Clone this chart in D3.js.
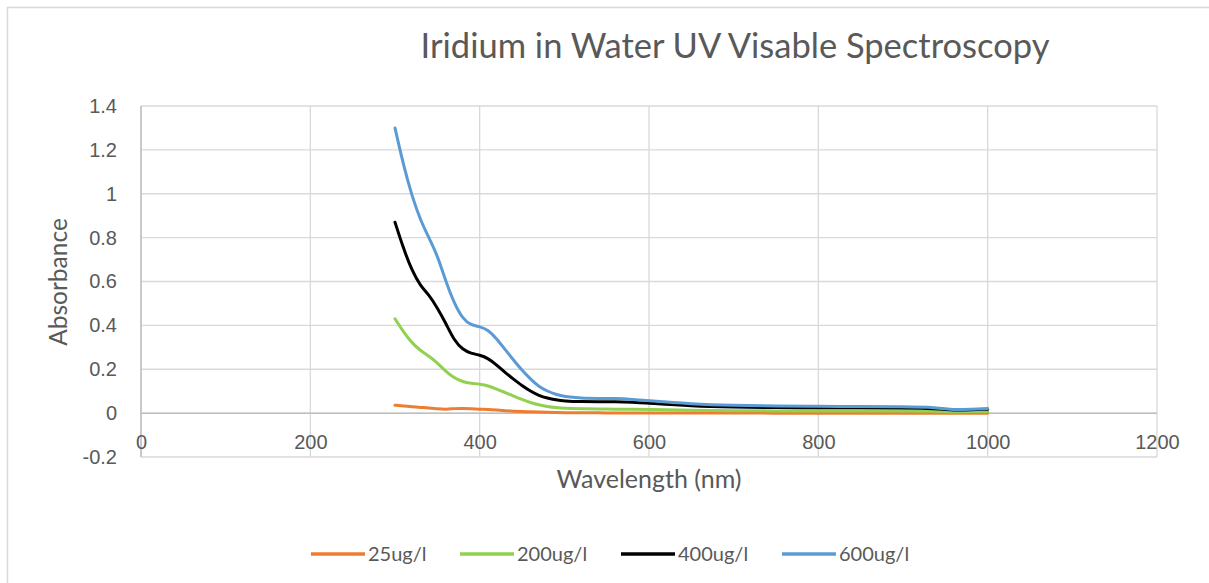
<!DOCTYPE html>
<html>
<head>
<meta charset="utf-8">
<script src="https://cdn.jsdelivr.net/npm/d3@7"></script>
<style>
  body { margin: 0; background: #fff; }
  svg { display: block; font-family: Lato, "Open Sans", sans-serif; }
  .grid line { stroke: #d9d9d9; stroke-width: 1.3; }
  .tick text { fill: #595959; }
</style>
</head>
<body>
<svg id="chart" width="1209" height="583"></svg>
<script>
// wavelengths (nm) shared by all series
var wavelengths = [300, 310, 320, 330, 340, 350, 360, 370, 380, 390, 400, 410, 420, 430, 440, 450,
  460, 470, 480, 490, 500, 520, 540, 560, 580, 600, 650, 700, 750, 800, 850, 900, 940, 960, 980, 1000];

var s25 = [0.036, 0.033, 0.029, 0.026, 0.024, 0.020, 0.017, 0.021, 0.022, 0.020, 0.018, 0.017, 0.014, 0.011, 0.009, 0.007,
  0.006, 0.005, 0.004, 0.003, 0.002, 0.002, 0.001, 0.001, 0.001, 0.001, 0.001, 0.000, 0.000, 0.000, 0.000, 0.000, 0.000, 0.000, 0.000, 0.000];
var s200 = [0.43, 0.37, 0.32, 0.285, 0.26, 0.23, 0.19, 0.16, 0.142, 0.136, 0.132, 0.125, 0.11, 0.094, 0.078, 0.062,
  0.048, 0.038, 0.030, 0.025, 0.022, 0.020, 0.019, 0.018, 0.018, 0.017, 0.013, 0.011, 0.010, 0.010, 0.010, 0.010, 0.009, 0.006, 0.007, 0.008];
var s400 = [0.87, 0.75, 0.65, 0.58, 0.54, 0.48, 0.41, 0.33, 0.29, 0.272, 0.265, 0.25, 0.22, 0.185, 0.155, 0.125,
  0.10, 0.08, 0.068, 0.060, 0.055, 0.052, 0.052, 0.052, 0.050, 0.045, 0.032, 0.027, 0.025, 0.025, 0.024, 0.023, 0.022, 0.012, 0.015, 0.018];
var s600 = [1.30, 1.13, 0.99, 0.88, 0.80, 0.72, 0.60, 0.50, 0.43, 0.40, 0.395, 0.38, 0.34, 0.29, 0.242, 0.195,
  0.155, 0.12, 0.10, 0.085, 0.075, 0.068, 0.067, 0.067, 0.063, 0.056, 0.042, 0.035, 0.032, 0.031, 0.030, 0.029, 0.026, 0.014, 0.018, 0.021];

var seriesNames = ["25ug/l", "200ug/l", "400ug/l", "600ug/l"];
var seriesColors = ["#ed7d31", "#92d050", "#000000", "#5b9bd5"];
var xTicks = [0, 200, 400, 600, 800, 1000, 1200];
var yTicks = [-0.2, 0, 0.2, 0.4, 0.6, 0.8, 1, 1.2, 1.4];

var series = [s25, s200, s400, s600].map(function(vals, i) {
  return {
    name: seriesNames[i],
    color: seriesColors[i],
    values: vals.map(function(v, j) { return {w: wavelengths[j], a: v}; })
  };
});

var svg = d3.select("#chart"),
    margin = {top: 106, left: 141, right: 52, bottom: 126},
    width = 1209 - margin.left - margin.right,
    height = 583 - margin.top - margin.bottom;

// chart border (cut off on right and bottom)
svg.append("path")
  .attr("d", "M7.5,583 L7.5,7.5 L1209,7.5")
  .attr("fill", "none")
  .attr("stroke", "#d9d9d9")
  .attr("stroke-width", 1.5);

var g = svg.append("g").attr("transform", "translate(" + margin.left + "," + margin.top + ")");

var x = d3.scaleLinear().domain([0, 1200]).range([0, width]),
    y = d3.scaleLinear().domain([-0.2, 1.4]).range([height, 0]);

// gridlines
var grid = g.append("g").attr("class", "grid");
grid.selectAll(".hg").data(yTicks).enter().append("line")
  .attr("x1", 0).attr("x2", width)
  .attr("y1", function(d) { return y(d); }).attr("y2", function(d) { return y(d); });
grid.selectAll(".vg").data(xTicks).enter().append("line")
  .attr("y1", 0).attr("y2", height)
  .attr("x1", function(d) { return x(d); }).attr("x2", function(d) { return x(d); });

// zero line + value axis line
g.append("line")
  .attr("x1", 0).attr("x2", width)
  .attr("y1", y(0)).attr("y2", y(0))
  .attr("stroke", "#bfbfbf").attr("stroke-width", 1.5);
g.append("line")
  .attr("x1", 0).attr("x2", 0)
  .attr("y1", 0).attr("y2", height)
  .attr("stroke", "#bfbfbf").attr("stroke-width", 1.5);

// y axis labels (plain hyphen for negatives, like the original)
var yAxis = g.append("g")
  .call(d3.axisLeft(y).tickValues(yTicks).tickSize(0).tickPadding(24)
    .tickFormat(function(d) { return String(+d.toFixed(1)); }));
yAxis.select(".domain").remove();
yAxis.selectAll("text").style("font-size", "20px").attr("fill", "#595959");

// x axis labels next to the zero line
var xAxis = g.append("g")
  .attr("transform", "translate(0," + y(0) + ")")
  .call(d3.axisBottom(x).tickValues(xTicks).tickSize(0).tickPadding(22).tickFormat(function(d) { return String(d); }));
xAxis.select(".domain").remove();
xAxis.selectAll("text").style("font-size", "20px").attr("fill", "#595959");

var line = d3.line()
  .curve(d3.curveBasis)
  .x(function(d) { return x(d.w); })
  .y(function(d) { return y(d.a); });

g.selectAll(".series")
  .data(series)
  .enter().append("path")
    .attr("class", "series")
    .attr("d", function(d) { return line(d.values); })
    .attr("fill", "none")
    .attr("stroke", function(d) { return d.color; })
    .attr("stroke-width", 3)
    .attr("stroke-linejoin", "round")
    .attr("stroke-linecap", "round");

// titles
svg.append("text")
  .attr("x", 735).attr("y", 58)
  .attr("text-anchor", "middle")
  .style("font-size", "34.5px")
  .attr("fill", "#595959")
  .text("Iridium in Water UV Visable Spectroscopy");

svg.append("text")
  .attr("x", 649).attr("y", 488)
  .attr("text-anchor", "middle")
  .style("font-size", "25px")
  .attr("fill", "#595959")
  .text("Wavelength (nm)");

svg.append("text")
  .attr("transform", "translate(67,282) rotate(-90)")
  .attr("text-anchor", "middle")
  .style("font-size", "24.5px")
  .attr("fill", "#595959")
  .text("Absorbance");

// legend
var legendX = [311, 460, 621, 782];
var legend = svg.selectAll(".legend")
  .data(series)
  .enter().append("g")
    .attr("class", "legend")
    .attr("transform", function(d, i) { return "translate(" + legendX[i] + ",554)"; });
legend.append("line")
  .attr("x1", 0).attr("x2", 54)
  .attr("stroke", function(d) { return d.color; })
  .attr("stroke-width", 3.5);
legend.append("text")
  .attr("x", 57).attr("dy", "0.35em")
  .style("font-size", "20px")
  .attr("fill", "#595959")
  .text(function(d) { return d.name; });
</script>
</body>
</html>
